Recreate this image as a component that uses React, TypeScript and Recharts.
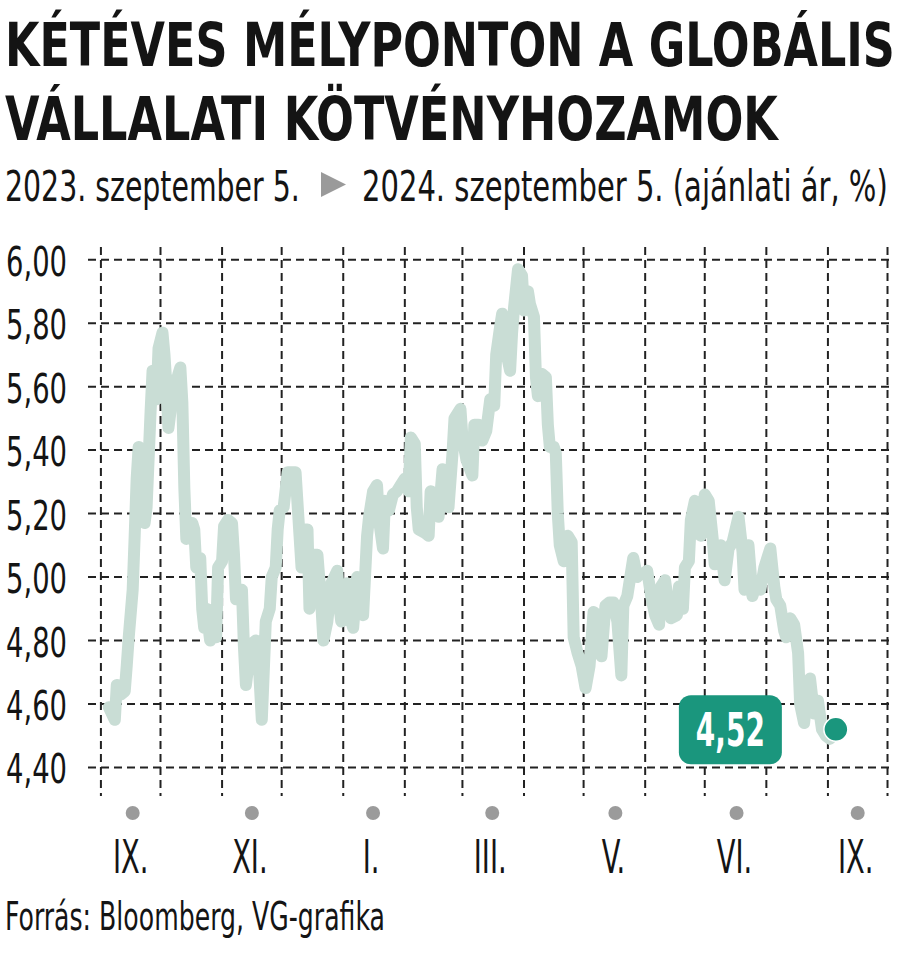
import React, { useLayoutEffect, useRef, useState } from "react";
import { LineChart, Line, XAxis, YAxis, CartesianGrid } from "recharts";

// days counted from 2023-09-01
const tradeDays = [
  4, 7, 8, 10, 12, 13, 14, 16, 17, 18, 19, 20, 21, 22, 23, 24, 25, 26, 28, 29,
  31, 32, 33, 34, 35, 36, 37, 39, 40, 41, 42, 43, 44, 46, 47, 48, 49, 50, 51, 52,
  53, 55, 56, 57, 58, 59, 61, 62, 64, 66, 67, 68, 70, 71, 72, 73, 75, 76, 78, 79,
  81, 83, 85, 86, 88, 89, 90, 92, 94, 98, 100, 101, 103, 104, 105, 107, 109, 111, 112, 114,
  116, 119, 120, 121, 124, 125, 127, 129, 131, 132, 134, 135, 137, 139, 140, 142, 143, 145, 147, 149,
  151, 153, 155, 156, 158, 159, 160, 163, 165, 166, 168, 169, 170, 172, 174, 175, 177, 178, 181, 182,
  184, 187, 188, 190, 192, 194, 196, 198, 199, 201, 202, 203, 206, 207, 208, 210, 212, 213, 215, 216,
  218, 219, 220, 222, 224, 225, 226, 228, 229, 230, 231, 233, 235, 237, 238, 240, 242, 244, 246, 248,
  250, 252, 254, 256, 258, 260, 262, 263, 265, 268, 270, 271, 273, 275, 277, 279, 281, 282, 284, 286,
  287, 290, 291, 293, 294, 296, 297, 299, 301, 302, 304, 306, 308, 309, 312, 314, 316, 318, 321, 323,
  324, 326, 328, 330, 332, 334, 337, 339, 340, 342, 344, 345, 347, 349, 351, 352, 354, 356, 357, 359,
  361, 363, 365, 367, 370,
];

const yieldPct = [
  4.59, 4.55, 4.66, 4.63, 4.64, 4.72, 4.81, 4.96, 5.13, 5.31, 5.41, 5.34, 5.2, 5.17, 5.22, 5.37, 5.52, 5.65, 5.56, 5.72,
  5.77, 5.7, 5.6, 5.47, 5.52, 5.62, 5.58, 5.64, 5.66, 5.55, 5.28, 5.12, 5.13, 5.17, 5.15, 5.03, 5.06, 5.06, 4.9, 4.84,
  4.9, 4.8, 4.89, 4.9, 4.81, 5.03, 5.05, 5.16, 5.18, 5.17, 5.07, 4.93, 4.95, 4.96, 4.78, 4.66, 4.76, 4.79, 4.8, 4.78,
  4.55, 4.86, 4.9, 5.0, 5.03, 5.15, 5.21, 5.22, 5.33, 5.33, 5.13, 5.03, 5.15, 5.15, 4.9, 5.07, 5.07, 4.91, 4.8, 4.86,
  4.98, 5.02, 4.91, 4.86, 4.98, 4.88, 4.84, 5.0, 4.9, 4.88, 5.13, 5.19, 5.27, 5.29, 5.18, 5.09, 5.24, 5.21, 5.26, 5.27,
  5.29, 5.31, 5.27, 5.44, 5.42, 5.22, 5.15, 5.14, 5.13, 5.27, 5.2, 5.24, 5.19, 5.34, 5.29, 5.22, 5.39, 5.5, 5.53, 5.44,
  5.37, 5.32, 5.48, 5.48, 5.43, 5.46, 5.56, 5.54, 5.7, 5.79, 5.83, 5.74, 5.65, 5.77, 5.85, 5.97, 5.95, 5.84, 5.9, 5.86,
  5.82, 5.63, 5.57, 5.64, 5.63, 5.48, 5.41, 5.41, 5.39, 5.2, 5.1, 5.05, 5.13, 5.11, 4.81, 4.76, 4.72, 4.65, 4.72, 4.89,
  4.88, 4.75, 4.91, 4.92, 4.92, 4.86, 4.69, 4.91, 4.94, 5.06, 5.0, 5.01, 5.01, 5.02, 4.94, 4.88, 4.85, 4.97, 4.99, 4.9,
  4.87, 4.88, 4.97, 4.9, 5.03, 5.05, 5.18, 5.24, 5.22, 5.13, 5.26, 5.24, 5.12, 5.04, 5.1, 4.99, 5.09, 5.11, 5.19, 5.08,
  4.96, 5.1, 4.94, 4.98, 4.96, 5.03, 5.09, 4.97, 4.93, 4.91, 4.83, 4.81, 4.87, 4.85, 4.76, 4.6, 4.54, 4.66, 4.68, 4.57,
  4.61, 4.52, 4.5, 4.49, 4.52,
];

// first day of each month, Sep 2023 .. Oct 2024
const monthStarts = [0, 30, 61, 91, 122, 153, 182, 213, 243, 274, 304, 335, 366, 396];
const labelDays = [16, 76, 137, 197, 259, 320, 381];
const monthLabels = ["IX.", "XI.", "I.", "III.", "V.", "VI.", "IX."];
const yTicks = [4.4, 4.6, 4.8, 5.0, 5.2, 5.4, 5.6, 5.8, 6.0];

const data = tradeDays.map((day, i) => ({ day, value: yieldPct[i] }));

const FONT = "'Liberation Sans Narrow', 'Arial Narrow', 'DejaVu Sans Condensed', sans-serif";
const TEAL = "#1a967d";
const LINE = "#c9ddd5";
const INK = "#141414";

const fmt = (v: number) => v.toFixed(2).replace(".", ",");

// squeezes a text horizontally so it spans the given width
const FitText = ({ x, y, width, children, ...rest }: any) => {
  const ref = useRef<SVGTextElement>(null);
  const [sx, setSx] = useState(1);
  useLayoutEffect(() => {
    if (ref.current) {
      const w = ref.current.getComputedTextLength();
      if (w > 0) setSx(width / w);
    }
  }, [width]);
  return (
    <text ref={ref} transform={`translate(${x},${y}) scale(${sx},1)`} {...rest}>
      {children}
    </text>
  );
};

const YTick = ({ x, y, payload }: any) => (
  <text x={x - 21} y={y + 16} textAnchor="end" fontFamily={FONT} fontSize={41} fill={INK}
    textLength={61} lengthAdjust="spacingAndGlyphs">
    {fmt(payload.value)}
  </text>
);

const MonthTick = ({ x, y, index }: any) => (
  <g>
    <circle cx={x} cy={y - 13} r={7} fill="#9b9b9b" />
    <text transform={`translate(${x - 2},${y + 47}) scale(0.66,1)`} textAnchor="middle"
      fontFamily={FONT} fontSize={46} fill={INK}>
      {monthLabels[index] ?? ""}
    </text>
  </g>
);

const LastDot = (props: any) => {
  const { cx, cy, index, payload } = props;
  if (index !== data.length - 1) return <g key={`d${index}`} />;
  return (
    <g key="last">
      <rect x={cx - 157} y={cy - 34} width={103} height={69} rx={12} fill={TEAL} />
      <text x={cx - 105.5} y={cy + 17} textAnchor="middle" fontFamily={FONT} fontWeight="bold"
        fontSize={46} fill="#fff" textLength={69} lengthAdjust="spacingAndGlyphs">
        {fmt(payload.value)}
      </text>
      <circle cx={cx} cy={cy} r={12} fill={TEAL} stroke="#fff" strokeWidth={1.5} />
    </g>
  );
};

export default function App() {
  return (
    <div style={{ position: "absolute", left: 0, top: 0, width: 900, height: 966, background: "#fff", overflow: "hidden" }}>
      <svg width={900} height={966} style={{ position: "absolute", left: 0, top: 0 }}>
        <g fontFamily={FONT} fill={INK}>
          <FitText x={5} y={66} width={890} fontSize={61} fontWeight="bold">
            KÉTÉVES MÉLYPONTON A GLOBÁLIS
          </FitText>
          <FitText x={5} y={140} width={773} fontSize={61} fontWeight="bold">
            VÁLLALATI KÖTVÉNYHOZAMOK
          </FitText>
          <FitText x={5} y={201} width={295} fontSize={42}>
            2023. szeptember 5.
          </FitText>
          <polygon points="321,172 346,184.5 321,197" fill="#9a9a9a" />
          <FitText x={362} y={201} width={526} fontSize={42}>
            2024. szeptember 5. (ajánlati ár, %)
          </FitText>
          <FitText x={5} y={930} width={380} fontSize={39}>
            Forrás: Bloomberg, VG-grafika
          </FitText>
        </g>
      </svg>
      <div style={{ position: "absolute", left: 0, top: 0 }}>
        <LineChart width={900} height={966} data={data}
          margin={{ top: 247, right: 10.5, bottom: 90, left: 0 }}>
          <CartesianGrid stroke="#222" strokeWidth={2} strokeDasharray="8 5" syncWithTicks />
          <XAxis dataKey="day" type="number" domain={[-6.5, 397]} ticks={monthStarts}
            allowDataOverflow hide />
          <XAxis xAxisId="lbl" dataKey="day" type="number" domain={[-6.5, 397]} ticks={labelDays}
            allowDataOverflow height={80} axisLine={false} tickLine={false} tickSize={0}
            tickMargin={0} interval={0} tick={<MonthTick />} />
          <YAxis type="number" domain={[4.31, 6.04]} ticks={yTicks} allowDataOverflow width={88}
            axisLine={false} tickLine={false} tickSize={0} tickMargin={0} interval={0} tick={<YTick />} />
          <Line type="linear" dataKey="value" stroke={LINE} strokeWidth={12} strokeLinejoin="round"
            strokeLinecap="round" dot={LastDot} activeDot={false} isAnimationActive={false} />
        </LineChart>
      </div>
    </div>
  );
}
